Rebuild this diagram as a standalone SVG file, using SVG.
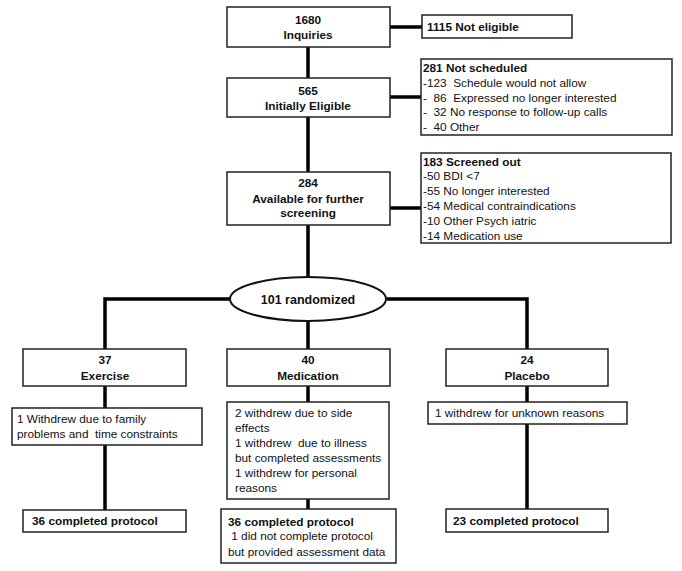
<svg xmlns="http://www.w3.org/2000/svg" width="682" height="571" viewBox="0 0 682 571">
<style>
.box{fill:#fff;stroke:#222;stroke-width:1.5}
.con{stroke:#000;stroke-width:3.5;fill:none}
text{font-family:"Liberation Sans",Arial,sans-serif;font-size:11.8px;fill:#111;white-space:pre}
.b{font-weight:bold}
.c{text-anchor:middle}
</style>
<rect width="682" height="571" fill="#fff"/>
<g id="connectors">
<path class="con" d="M308 47V78M308 117V172M308 225V277M308 321V349M390 27H422M390 97H421M390 208H421"/>
<path class="con" d="M230 299H105V349M387 299H527V349"/>
<path class="con" d="M105 386V408M105 445V510M308 386V402M308 499V509M527 386V402M527 424V509"/>
</g>
<g id="inquiries"><rect class="box" x="227" y="7" width="163" height="40"/><text class="b c" x="308" y="24">1680</text><text class="b c" x="308" y="39">Inquiries</text></g>
<g id="not-eligible"><rect class="box" x="422" y="15" width="150" height="23"/><text class="b" x="427" y="31">1115 Not eligible</text></g>
<g id="initially-eligible"><rect class="box" x="227" y="78" width="163" height="39"/><text class="b c" x="308" y="95">565</text><text class="b c" x="308" y="110">Initially Eligible</text></g>
<g id="not-scheduled"><rect class="box" x="421" y="59" width="251" height="76"/>
<text class="b" x="423" y="72">281 Not scheduled</text>
<text x="423" y="87" xml:space="preserve">-123  Schedule would not allow</text>
<text x="423" y="102" xml:space="preserve">-  86  Expressed no longer interested</text>
<text x="423" y="116" xml:space="preserve">-  32 No response to follow-up calls</text>
<text x="423" y="131" xml:space="preserve">-  40 Other</text></g>
<g id="available"><rect class="box" x="227" y="172" width="163" height="53"/><text class="b c" x="308" y="187">284</text><text class="b c" x="308" y="203">Available for further</text><text class="b c" x="308" y="217">screening</text></g>
<g id="screened-out"><rect class="box" x="421" y="153" width="250" height="90"/>
<text class="b" x="423" y="166">183 Screened out</text>
<text x="423" y="180">-50 BDI &lt;7</text>
<text x="423" y="195">-55 No longer interested</text>
<text x="423" y="210">-54 Medical contraindications</text>
<text x="423" y="225">-10 Other Psych iatric</text>
<text x="423" y="240">-14 Medication use</text></g>
<g id="randomized"><ellipse cx="308" cy="299" rx="78" ry="22" fill="#fff" stroke="#111" stroke-width="2"/><text class="b c" x="308" y="303.5" style="font-size:12.5px">101 randomized</text></g>
<g id="exercise"><rect class="box" x="23" y="349" width="163" height="37"/><text class="b c" x="105" y="364">37</text><text class="b c" x="105" y="380">Exercise</text></g>
<g id="medication"><rect class="box" x="227" y="349" width="163" height="37"/><text class="b c" x="308" y="364">40</text><text class="b c" x="308" y="380">Medication</text></g>
<g id="placebo"><rect class="box" x="446" y="349" width="162" height="37"/><text class="b c" x="527" y="364">24</text><text class="b c" x="527" y="380">Placebo</text></g>
<g id="exercise-withdrew"><rect class="box" x="12" y="408" width="190" height="37"/><text x="17" y="423">1 Withdrew due to family</text><text x="17" y="438" xml:space="preserve">problems and  time constraints</text></g>
<g id="medication-withdrew"><rect class="box" x="227" y="402" width="162" height="97"/>
<text x="235" y="417">2 withdrew due to side</text>
<text x="235" y="432">effects</text>
<text x="235" y="447" xml:space="preserve">1 withdrew  due to illness</text>
<text x="235" y="462">but completed assessments</text>
<text x="235" y="477">1 withdrew for personal</text>
<text x="235" y="492">reasons</text></g>
<g id="placebo-withdrew"><rect class="box" x="428" y="402" width="199" height="22"/><text x="435" y="417">1 withdrew for unknown reasons</text></g>
<g id="exercise-completed"><rect class="box" x="23" y="510" width="163" height="22"/><text class="b" x="32" y="525">36 completed protocol</text></g>
<g id="medication-completed"><rect class="box" x="221" y="509" width="175" height="54"/>
<text class="b" x="228" y="526">36 completed protocol</text>
<text x="228" y="540" xml:space="preserve"> 1 did not complete protocol</text>
<text x="228" y="556">but provided assessment data</text></g>
<g id="placebo-completed"><rect class="box" x="446" y="509" width="162" height="23"/><text class="b" x="453" y="525">23 completed protocol</text></g>
</svg>
